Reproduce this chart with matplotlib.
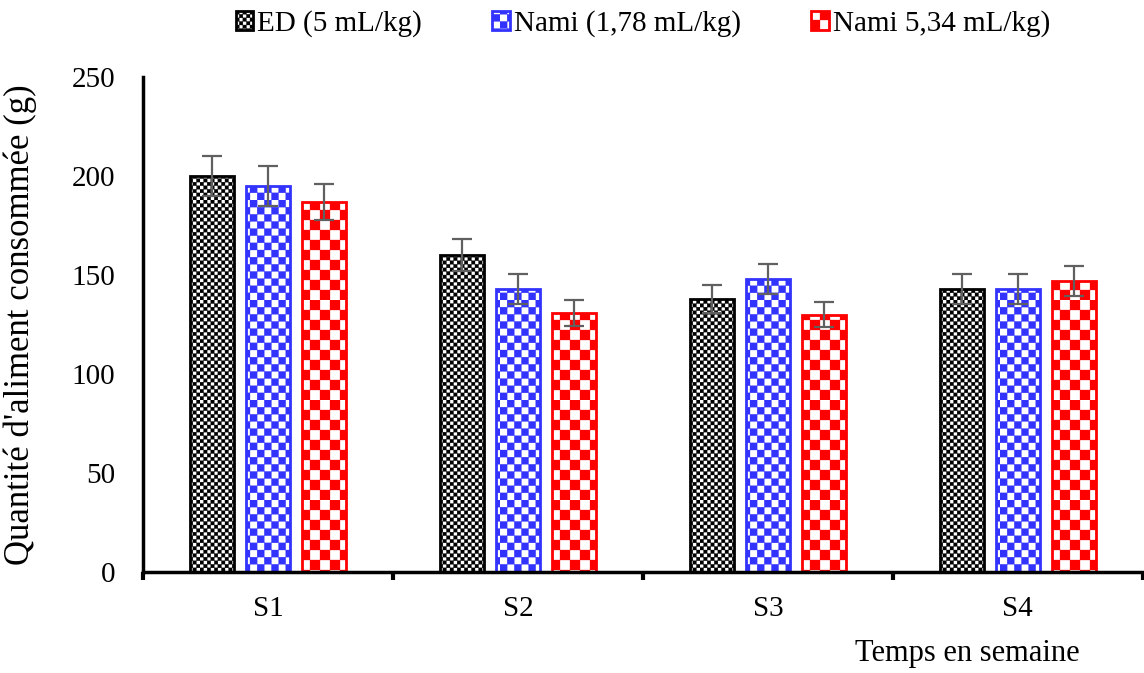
import warnings
import numpy as np
import matplotlib
matplotlib.use("Agg")
import matplotlib.pyplot as plt
from matplotlib import hatch as mhatch
from matplotlib.path import Path

warnings.filterwarnings("ignore")

weeks = ["S1", "S2", "S3", "S4"]
series = ["ED (5 mL/kg)", "Nami (1,78 mL/kg)", "Nami 5,34 mL/kg)"]
ed_vals = [200, 160, 138, 143]
ed_err = [10, 8, 7, 7.5]
nami1_vals = [195, 143, 148, 143]
nami1_err = [10, 7.5, 7.5, 7.5]
nami2_vals = [187, 131, 130, 147]
nami2_err = [9, 6.5, 6.5, 7.5]


# checkerboard hatch: each 'c' gives 2 cells per inch
class CheckerHatch(mhatch.HatchPatternBase):
    filled = True

    def __init__(self, hatch, density):
        self.n = hatch.count('c') * 2
        self.num_vertices = (self.n * self.n // 2) * 5

    def set_vertices_and_codes(self, vertices, codes):
        step = 1.0 / self.n
        k = 0
        for i in range(self.n):
            for j in range(self.n):
                if (i + j) % 2:
                    continue
                x0, y0 = i * step, j * step
                vertices[k:k + 5] = [(x0, y0), (x0 + step, y0), (x0 + step, y0 + step),
                                     (x0, y0 + step), (x0, y0)]
                codes[k:k + 5] = [Path.MOVETO, Path.LINETO, Path.LINETO,
                                  Path.LINETO, Path.CLOSEPOLY]
                k += 5


mhatch._hatch_types.append(CheckerHatch)

plt.rcParams['font.family'] = ['Liberation Serif', 'DejaVu Serif']
plt.rcParams['hatch.linewidth'] = 0.2

fig = plt.figure(figsize=(11.44, 6.73), dpi=100)
ax = fig.add_axes([0.125, 0.150, 0.874, 0.7356])

x = np.arange(len(weeks))
w = 0.176
gap = 0.224
styles = [("black", "c" * 14), ("#3333ff", "c" * 7), ("red", "c" * 5)]
data = [(ed_vals, ed_err), (nami1_vals, nami1_err), (nami2_vals, nami2_err)]
for k, ((vals, err), (col, htch), lab) in enumerate(zip(data, styles, series)):
    ax.bar(x + (k - 1) * gap, vals, w, color="white", edgecolor=col,
           hatch=htch, linewidth=2, label=lab, zorder=2)
    ax.errorbar(x + (k - 1) * gap, vals, yerr=err, fmt="none", ecolor="#606060",
                elinewidth=1.6, capsize=7, capthick=1.6, zorder=3)

ax.set_xlim(-0.5, 3.5)
ax.set_ylim(0, 250)
ax.set_yticks(range(0, 251, 50))
ax.set_xticks(x)
ax.set_xticklabels(weeks, fontsize=21)
ax.set_xticks(np.arange(-0.5, 3.6, 1), minor=True)
ax.tick_params(axis="x", which="major", length=0, pad=17)
ax.tick_params(axis="x", which="minor", length=6, width=3, direction="out")
ax.tick_params(axis="y", labelsize=21, length=0, pad=20)
for s in ["top", "right"]:
    ax.spines[s].set_visible(False)
for s in ["left", "bottom"]:
    ax.spines[s].set_linewidth(2.5)

ax.set_ylabel("Quantité d'aliment consommée (g)", fontsize=25)
ax.yaxis.set_label_coords(-0.106, 0.5)
ax.set_xlabel("Temps en semaine", fontsize=22, ha="right")
ax.xaxis.set_label_coords(0.937, -0.135)

ax.legend(loc="center", bbox_to_anchor=(0.5, 1.108), ncol=3, frameon=False,
          fontsize=21, handlelength=0.6, handleheight=0.6, handletextpad=0.15,
          columnspacing=2.4)

fig.savefig("out.png", dpi=100)
